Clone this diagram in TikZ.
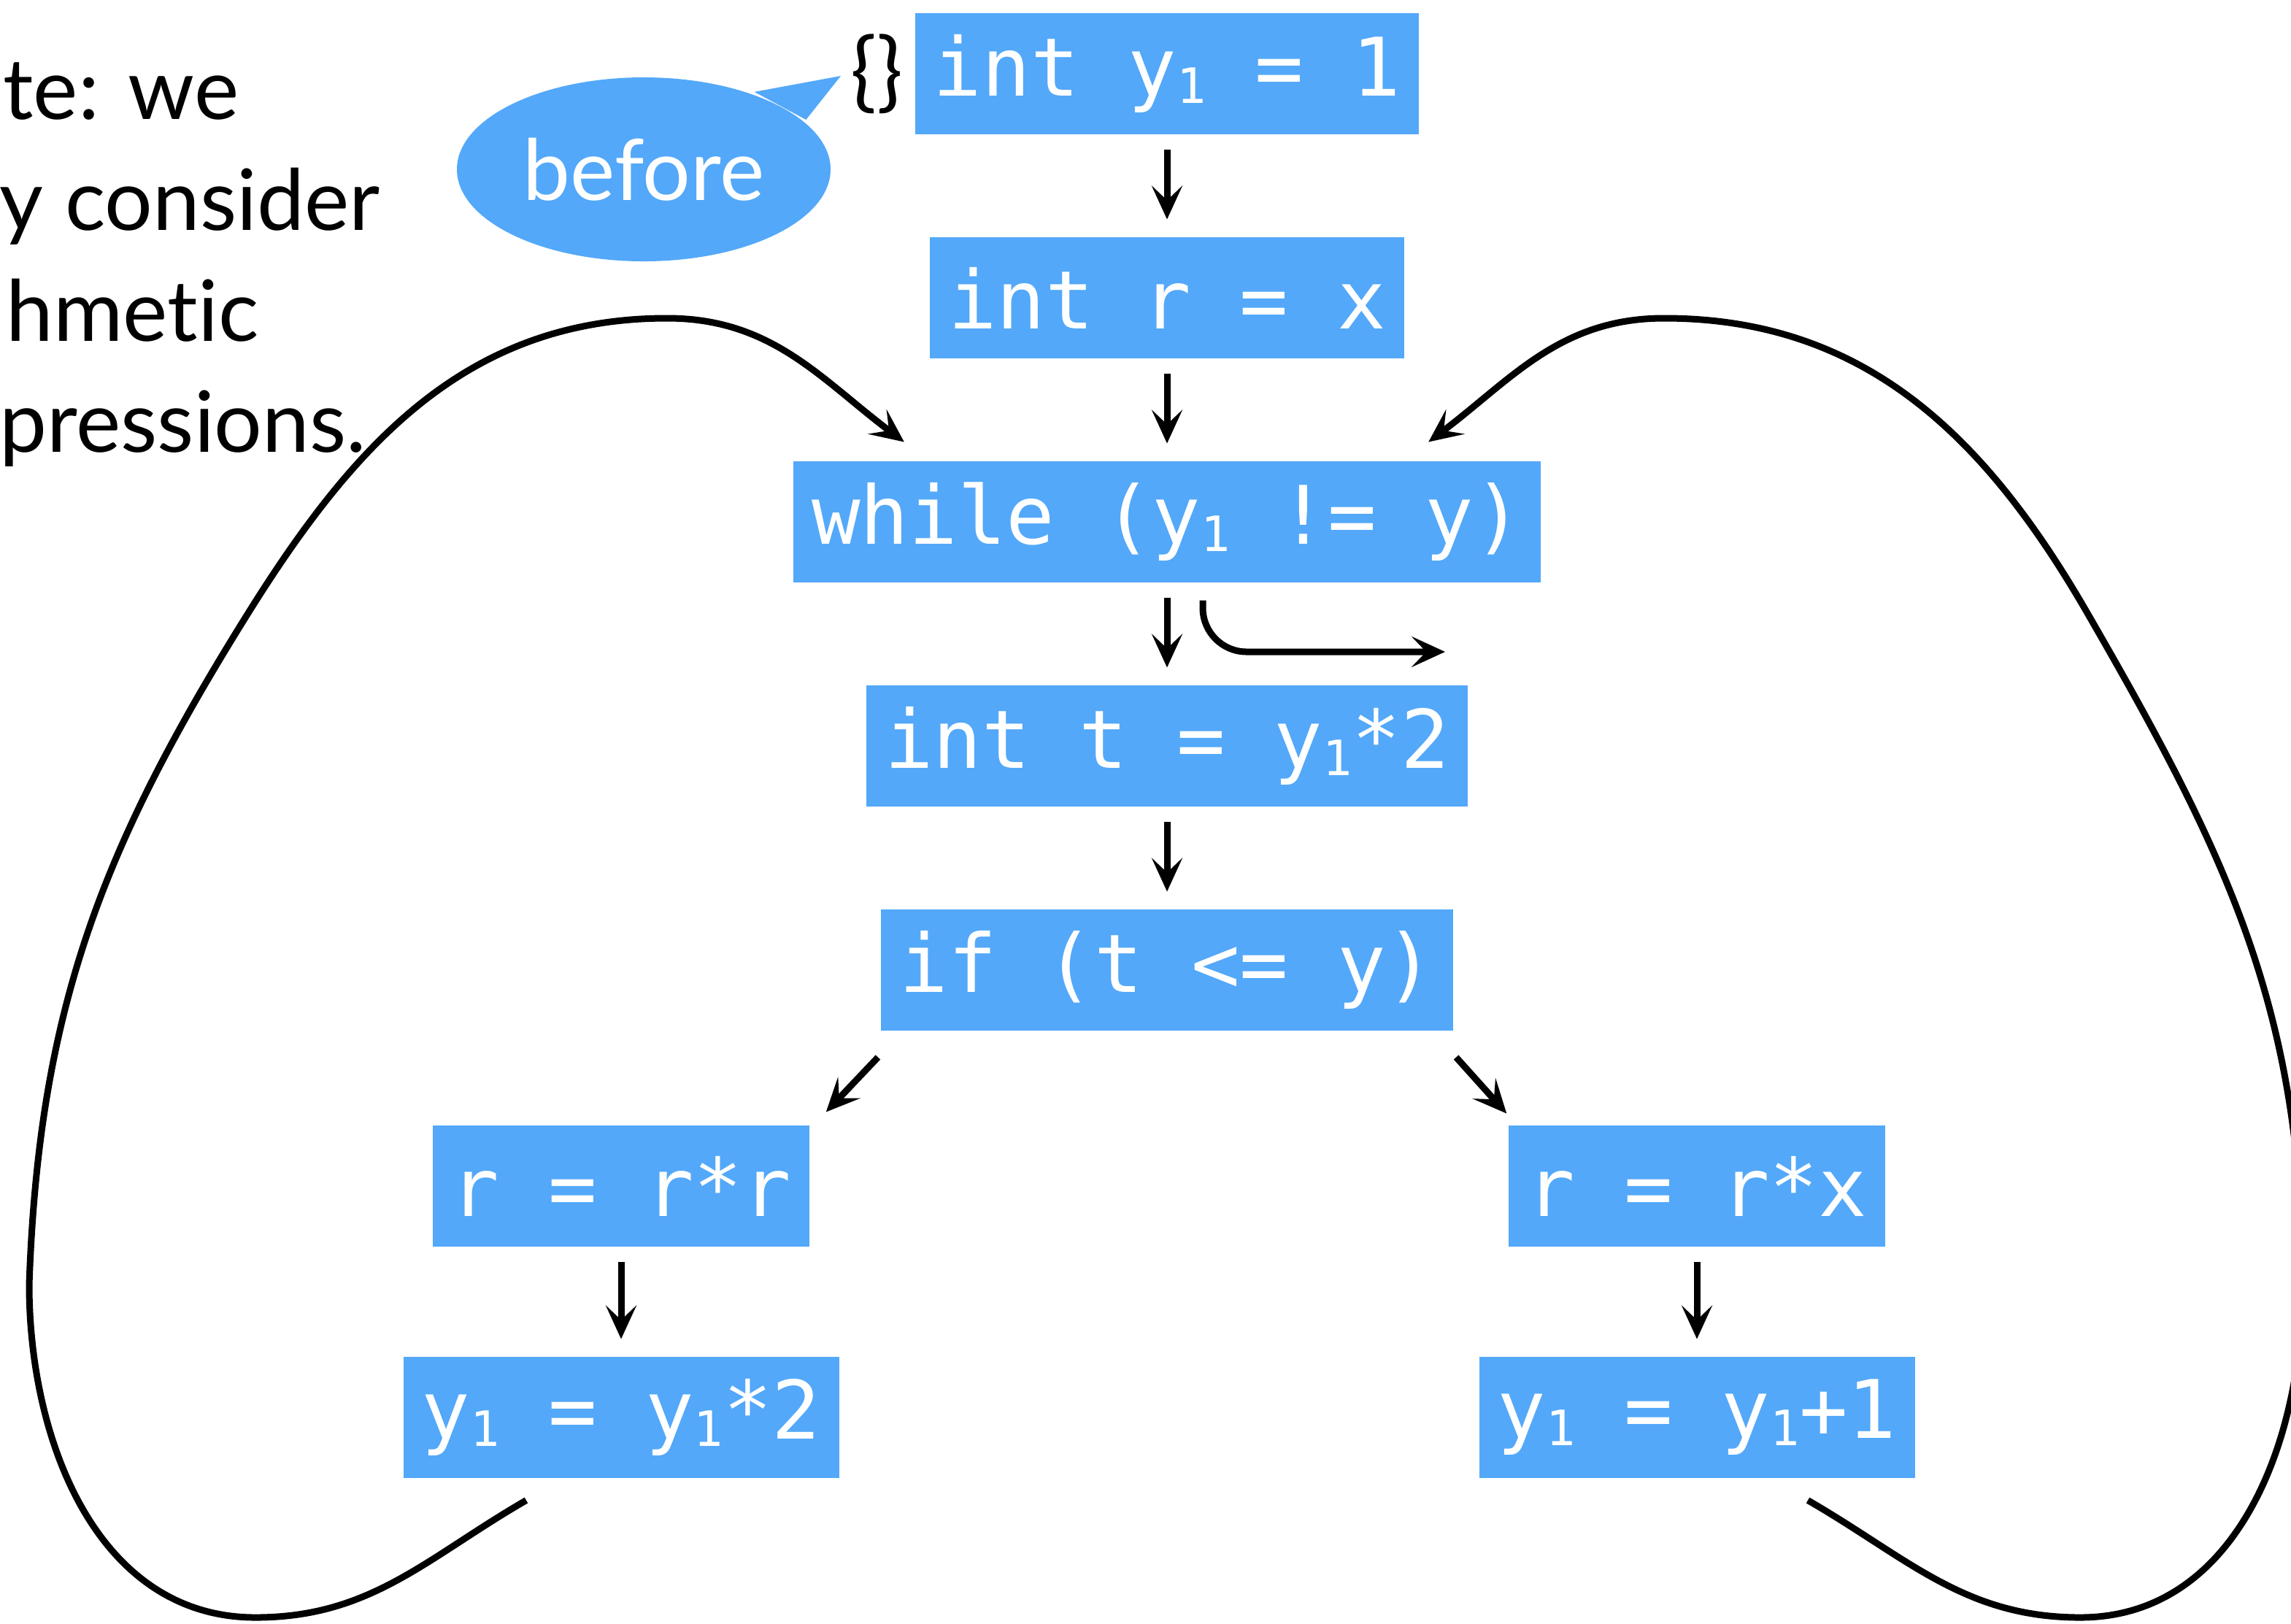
\documentclass[tikz,border=0pt]{standalone}
\usepackage{fontspec}
\setmainfont{Lato}[Ligatures=NoCommon]
\setmonofont{DejaVu Sans Mono}
\usepackage{tikz}
\usetikzlibrary{positioning,arrows.meta,shapes.geometric}
\definecolor{boxblue}{RGB}{83,168,249}
\newcommand{\yone}{y\raisebox{-0.1cm}{\fontsize{19}{19}\selectfont 1}}
\tikzset{%
  every stmt/.style={
    fill=boxblue,
    text=white,
    font=\ttfamily\fontsize{31.5}{32}\selectfont,
    minimum height=1.66cm,
    inner xsep=0.25cm
  },
  every note/.style={
    font=\fontsize{33}{34}\selectfont,
    anchor=base west,
    inner sep=0pt
  },
  bubble/.style={
    ellipse,
    fill=boxblue,
    text=white,
    minimum width=5.12cm,
    minimum height=2.52cm,
    inner sep=0pt,
    font=\fontsize{33}{34}\selectfont
  },
}

\begin{document}
\begin{tikzpicture}[>={Stealth[length=0.46cm,width=0.42cm,inset=0.2cm]}, line width=0.09cm]
    \useasboundingbox (0,0) rectangle (31.39,-22.24);

    % cut-off remark on the left
    \foreach \l/\dx [count=\i] in {te: we/0, y consider/-0.05, hmetic/0.04, pressions./-0.05}
    \node [every note] (note-\i) at (\dx,{-1.63-1.52*(\i-1)}) {\l};

    % straight-line part
    \foreach \s [count=\i] in {{int \yone{} = 1}, {int r = x}, {while (\yone{} != y)}, {int t = \yone*2}, {if (t <= y)}}
    \node [every stmt] (stmt-\i) at (15.99,{-1.01-3.07*(\i-1)}) {\s};

    % branches
    \node [every stmt] (then-1) at (8.51,-16.25) {r = r*r};
    \node [every stmt, below=1.42cm of then-1] (then-2) {\yone{} = \yone*2};
    \node [every stmt] (else-1) at (23.25,-16.25) {r = r*x};
    \node [every stmt, below=1.42cm of else-1] (else-2) {\yone{} = \yone+1};

    % facts before the first statement
    \node [font=\fontsize{34}{34}\selectfont, inner sep=0pt, left=0.08cm of stmt-1] (facts) {\{\}};
    \node [bubble] (before) at (8.82,-2.32) {before};
    \fill [boxblue] (before.35) -- (11.52,-1.04) -- (before.17) -- cycle;

    \foreach \a/\b in {stmt-1/stmt-2, stmt-2/stmt-3, stmt-3/stmt-4, stmt-4/stmt-5, then-1/then-2, else-1/else-2}
        \draw [->, shorten <=0.16cm, shorten >=0.2cm] (\a) -- (\b);

    % loop exit
    \coordinate (exit) at (19.8,-8.93);
    \draw [->, rounded corners=0.6cm] ([xshift=0.49cm,yshift=-0.2cm]stmt-3.south) |- (exit);

    \draw [->] ([yshift=-0.32cm]stmt-5.south west) -- ([xshift=0.18cm,yshift=0.14cm]then-1.north east);
    \draw [->] ([yshift=-0.32cm]stmt-5.south east) -- ([xshift=0.02cm,yshift=0.12cm]else-1.north west);

    % back edges
    \draw [->] ([xshift=-1.3cm,yshift=-0.26cm]then-2.south)
        to[out=-150,in=0] (3.5,-22.16) to[out=180,in=-90] (0.4,-17.6)
        to[out=88,in=-122] (3.4,-8.4) to[out=58,in=180] (9.14,-4.36)
        to[out=0,in=143] ([xshift=1.56cm,yshift=0.22cm]stmt-3.north west);
    \draw [->] ([xshift=1.52cm,yshift=-0.26cm]else-2.south)
        to[out=-30,in=180] (28.5,-22.16) to[out=0,in=-90] (31.55,-17.6)
        to[out=90,in=-60] (28.6,-8.4) to[out=120,in=0] (22.8,-4.36)
        to[out=180,in=37] ([xshift=-1.58cm,yshift=0.22cm]stmt-3.north east);

\end{tikzpicture}
\end{document}
